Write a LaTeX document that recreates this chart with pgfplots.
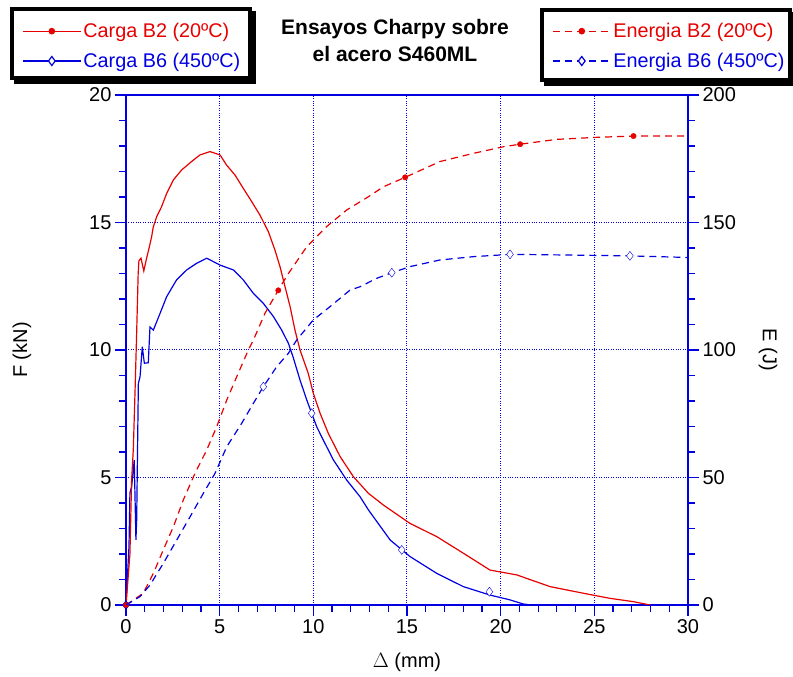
\documentclass[border=0pt]{standalone}
\usepackage{fontspec}
\setmainfont{Liberation Sans}
\usepackage{pgfplots}
\pgfplotsset{compat=1.18}
\definecolor{cred}{RGB}{230,0,0}
\definecolor{cblue}{RGB}{0,0,225}
\begin{document}
\begin{tikzpicture}
\path[use as bounding box] (-126pt,-72pt) rectangle (667pt,605pt);
% legend frames with shadow
\draw[line width=3.5pt, fill=black] (-110pt,523pt) rectangle (128pt,592pt);
\draw[line width=3.5pt, fill=white] (-114pt,527pt) rectangle (124pt,596pt);
\draw[line width=3.5pt, fill=black] (420pt,521pt) rectangle (668pt,591pt);
\draw[line width=3.5pt, fill=white] (416pt,525pt) rectangle (664pt,595pt);
\pgfplotsset{
  common/.style={
    scale only axis, width=562pt, height=510pt,
    xmin=0, xmax=30,
    /pgf/number format/assume math mode=true,
    tick label style={font=\fontsize{20}{24}\selectfont},
    axis line style={cblue, line width=1.6pt},
    tick style={cblue, line width=1.2pt},
    tick align=outside,
    major tick length=11pt, minor tick length=7pt,
  },
  leg/.style={
    legend cell align=left,
    legend style={draw=none, fill=none,
      font=\fontsize{19.8}{22}\selectfont, inner sep=0pt, row sep=10pt},
    legend image code/.code={\draw[mark repeat=2,mark phase=2,##1] plot coordinates {(0pt,0pt) (29pt,0pt) (58pt,0pt)};},
  }
}
\begin{axis}[common, leg,
  ymin=0, ymax=20,
  xtick={0,5,...,30}, ytick={0,5,...,20},
  minor x tick num=4, minor y tick num=4,
  xtick pos=bottom, ytick pos=left,
  grid=major, major grid style={cblue, dotted, line width=1pt},
  xlabel={$\Delta$ (mm)}, ylabel={F (kN)},
  every axis x label/.style={at={(axis description cs:0.5,-0.112)}, anchor=center, font=\fontsize{20}{24}\selectfont},
  every axis y label/.style={at={(axis description cs:-0.185,0.5)}, rotate=90, anchor=center, font=\fontsize{20}{24}\selectfont},
  legend style={at={(axis description cs:-0.185,1.145)}, anchor=north west},
]
\addlegendimage{cred, line width=1.2pt, mark=*, mark size=2.7pt, mark options={solid}}
\addlegendentry{\textcolor{cred}{Carga B2 (20ºC)}}
\addlegendimage{cblue, line width=1.2pt, mark=diamond*, mark size=4.5pt, mark options={solid, fill=white}}
\addlegendentry{\textcolor{cblue}{Carga B6 (450ºC)}}
% Carga B6
\addplot[cblue, line width=1.2pt, forget plot] coordinates {
(0,0) (0.16,2.3) (0.21,4.4) (0.30,4.64) (0.44,5.68) (0.53,2.55) (0.57,3.33) (0.66,8.69) (0.75,8.95) (0.87,10.13) (0.98,9.48) (1.19,9.5) (1.28,10.9) (1.46,10.78) (1.82,11.44) (2.17,12.09) (2.7,12.75) (3.24,13.14) (3.77,13.4) (4.31,13.6) (5.02,13.33) (5.73,13.14) (6.26,12.75) (6.8,12.22) (7.33,11.83) (7.87,11.31) (8.31,10.78) (8.67,10.26) (8.93,9.7) (9.29,8.82) (9.65,8.04) (9.91,7.52) (10.18,6.99) (10.53,6.47) (11.07,5.69) (11.78,4.9) (12.49,4.25) (12.94,3.73) (14.1,2.55) (15.16,1.9) (16.59,1.24) (18.01,0.72) (19.43,0.39) (20.5,0.2) (21.2,0.04) (21.66,0)
};
% Carga B2
\addplot[cred, line width=1.2pt, forget plot] coordinates {
(0,0) (0.21,2.0) (0.30,4.9) (0.39,6.1) (0.48,8.3) (0.57,10.7) (0.65,13.0) (0.69,13.5) (0.80,13.6) (0.95,13.1) (1.1,13.6) (1.25,14.05) (1.37,14.45) (1.46,14.84) (1.64,15.23) (1.9,15.62) (2.17,16.14) (2.53,16.67) (2.97,17.06) (3.5,17.39) (3.95,17.65) (4.48,17.78) (5.02,17.65) (5.37,17.25) (5.82,16.86) (6.26,16.34) (6.71,15.82) (7.15,15.29) (7.6,14.64) (7.95,13.92) (8.22,13.27) (8.49,12.48) (8.76,11.7) (9.02,10.78) (9.29,10.0) (9.73,9.08) (10.0,8.3) (10.36,7.52) (10.8,6.73) (11.43,5.82) (12.14,5.03) (12.94,4.38) (13.74,3.92) (15.16,3.2) (16.59,2.68) (18.01,2.03) (19.43,1.37) (20.86,1.18) (22.64,0.72) (24.42,0.46) (25.84,0.26) (27.09,0.13) (27.98,0)
};
\addplot[only marks, cblue, mark=diamond*, mark size=4.5pt, mark options={fill=white}, forget plot] coordinates {(9.91,7.52) (14.72,2.16) (19.4,0.52)};
\addplot[only marks, cblue, mark=diamond*, mark size=4.5pt, mark options={fill=cblue}, forget plot] coordinates {(0,0)};
\addplot[only marks, cred, mark=*, mark size=2.7pt, forget plot] coordinates {(0,0)};
\end{axis}
\begin{axis}[common, leg,
  ymin=0, ymax=200,
  axis x line=none, axis y line*=right,
  ytick={0,50,...,200}, minor y tick num=4,
  ylabel={E (J)},
  every axis y label/.style={at={(axis description cs:1.1423,0.5)}, rotate=-90, anchor=center, font=\fontsize{20}{24}\selectfont},
  legend style={at={(axis description cs:0.758,1.145)}, anchor=north west},
]
\addlegendimage{cred, line width=1.2pt, dash pattern=on 7pt off 5pt, mark=*, mark size=2.7pt, mark options={solid}}
\addlegendentry{\textcolor{cred}{Energia B2 (20ºC)}}
\addlegendimage{cblue, line width=1.2pt, dash pattern=on 7pt off 5pt, mark=diamond*, mark size=4.5pt, mark options={solid, fill=white}}
\addlegendentry{\textcolor{cblue}{Energia B6 (450ºC)}}
% Energia B2
\addplot[cred, line width=1.2pt, dash pattern=on 7pt off 5pt, forget plot] coordinates {
(0,0) (0.92,4.6) (1.46,12.4) (1.99,21.6) (2.53,30.7) (3.06,41.2) (3.68,51.6) (4.31,60.8) (4.84,69.9) (5.38,80.4) (5.91,89.5) (6.53,100) (6.8,103.9) (7.42,114.4) (8.13,123.5) (8.67,130) (9.65,140.5) (10.71,148.4) (11.78,154.9) (12.94,160.1) (13.74,164) (14.9,167.7) (16.76,173.9) (18.54,177.1) (20.14,179.7) (21.04,180.7) (23,182.6) (25.13,183.4) (27.09,183.9) (29.94,183.9)
};
% Energia B6
\addplot[cblue, line width=1.2pt, dash pattern=on 7pt off 5pt, forget plot] coordinates {
(0,0) (0.75,3.3) (1.28,7.8) (1.99,16.3) (2.71,25.5) (3.42,34.6) (4.13,43.8) (4.75,51.6) (5.38,62.1) (6.18,71.3) (6.8,79.1) (7.33,85.6) (8.05,93.5) (8.67,98.7) (9.11,103.9) (10,111.8) (10.89,117) (11.96,123.5) (12.49,124.8) (13.38,128.1) (14.19,130.3) (15.16,132.7) (16.76,135.3) (18.54,136.6) (20.5,137.5) (23,137.3) (26.9,136.9) (29.94,136.3)
};
\addplot[only marks, cred, mark=*, mark size=2.7pt, forget plot] coordinates {(8.13,123.4) (14.9,167.7) (21.04,180.7) (27.09,183.9)};
\addplot[only marks, cblue, mark=diamond*, mark size=4.5pt, mark options={fill=white}, forget plot] coordinates {(7.33,85.6) (14.19,130.3) (20.5,137.5) (26.9,136.9)};
\end{axis}
\node[font=\fontsize{21}{24}\selectfont\bfseries, anchor=base] at (269pt,570.7pt) {Ensayos Charpy sobre};
\node[font=\fontsize{21}{24}\selectfont\bfseries, anchor=base] at (269pt,543.3pt) {el acero S460ML};
\end{tikzpicture}
\end{document}
